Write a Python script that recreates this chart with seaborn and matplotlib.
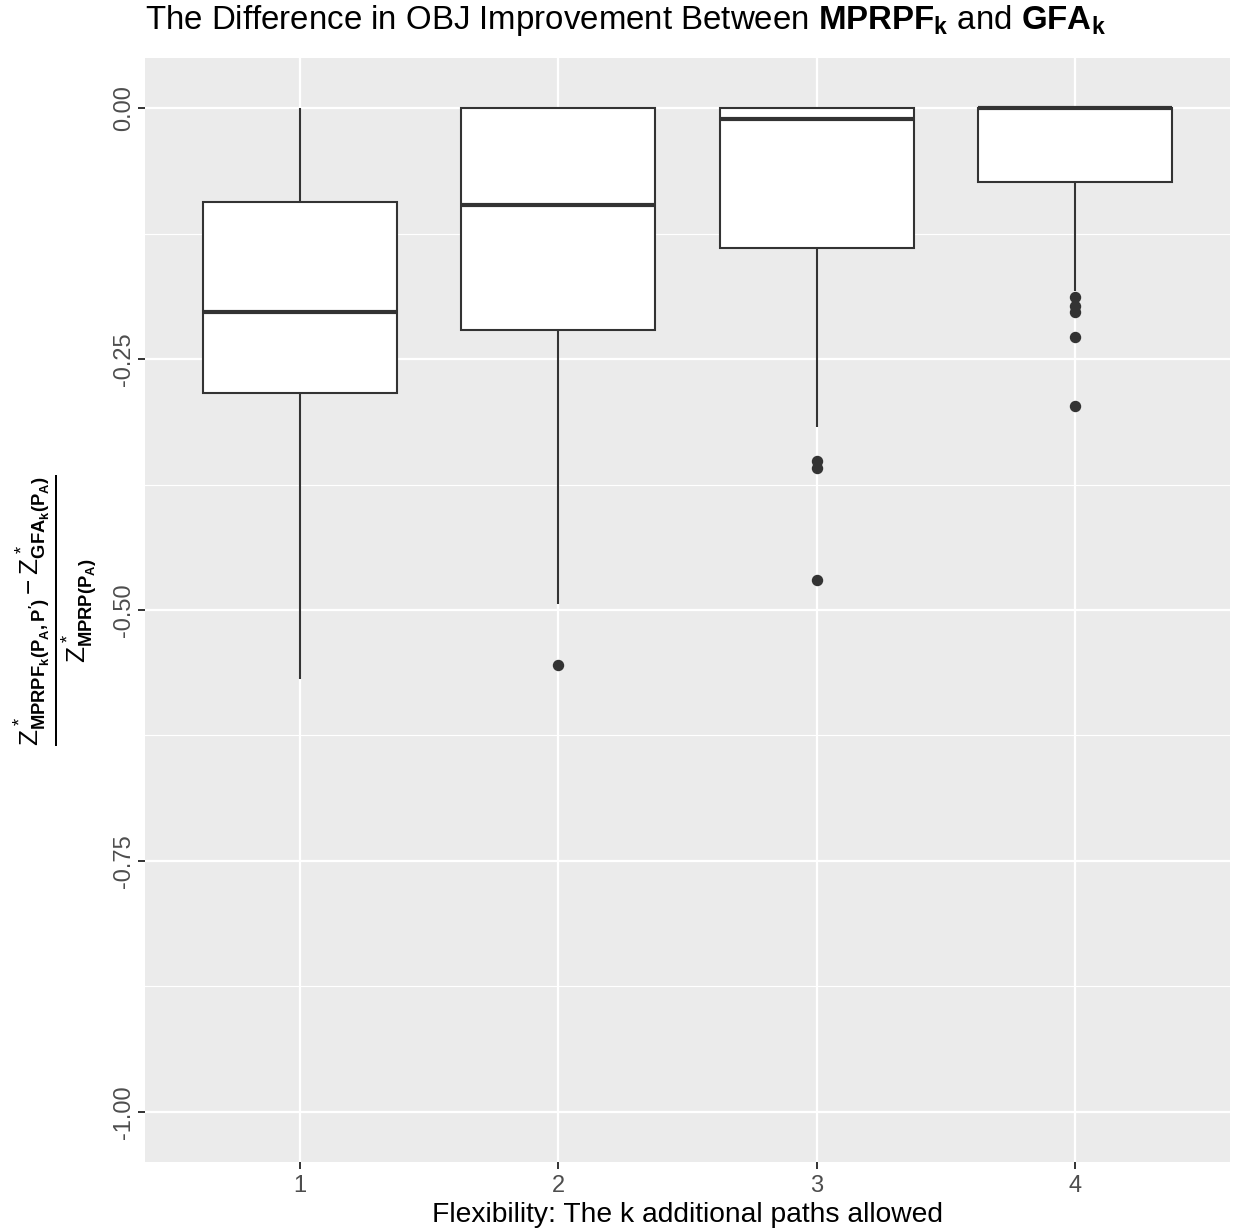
import numpy as np
import pandas as pd
import matplotlib
matplotlib.use("Agg")
import matplotlib.pyplot as plt
import seaborn as sns
from matplotlib.ticker import FixedLocator

# Relative objective difference per instance, grouped by flexibility k
k1_values = [-0.569, -0.400, -0.284, -0.240, -0.203, -0.150, -0.0936, -0.040, 0.0]
k2_values = [-0.555, -0.494, -0.221, -0.150, -0.0966, -0.050, 0.0, 0.0, 0.0]
k3_values = [-0.470, -0.359, -0.352, -0.318, -0.139, -0.100, -0.060, -0.030,
             -0.011, -0.006, -0.003, -0.001, 0.0, 0.0, 0.0, 0.0, 0.0]
k4_values = [-0.297, -0.228, -0.203, -0.197, -0.188, -0.182, -0.074, -0.050,
             -0.030, -0.015, -0.005, -0.001, 0.0, 0.0, 0.0, 0.0, 0.0, 0.0,
             0.0, 0.0, 0.0, 0.0, 0.0, 0.0, 0.0]

k_labels = ["1", "2", "3", "4"]
y_ticks = [0.0, -0.25, -0.5, -0.75, -1.0]
y_tick_labels = ["0.00", "-0.25", "-0.50", "-0.75", "-1.00"]
y_minor = [-0.125, -0.375, -0.625, -0.875]

groups = [k1_values, k2_values, k3_values, k4_values]
df = pd.DataFrame({
    "k": np.concatenate([[lab] * len(v) for lab, v in zip(k_labels, groups)]),
    "diff": np.concatenate(groups),
})

plt.rcParams["font.family"] = ["Liberation Sans", "DejaVu Sans"]
plt.rcParams["mathtext.fontset"] = "custom"
plt.rcParams["mathtext.rm"] = "Liberation Sans"
plt.rcParams["mathtext.it"] = "Liberation Sans"
plt.rcParams["mathtext.bf"] = "Liberation Sans:bold"
plt.rcParams["mathtext.sf"] = "Liberation Sans"

fig = plt.figure(figsize=(12.33, 12.32), dpi=100)
ax = fig.add_axes([145 / 1233, 1 - 1162 / 1232, 1085 / 1233, 1104 / 1232])
ax.set_facecolor("#EBEBEB")
ax.set_axisbelow(True)

ink = "#333333"
sns.boxplot(
    data=df, x="k", y="diff", order=k_labels, ax=ax,
    color="white", linecolor=ink, linewidth=1.5, width=0.75,
    showcaps=False, whis=1.5,
    boxprops=dict(facecolor="white", edgecolor=ink, linewidth=1.5),
    medianprops=dict(color=ink, linewidth=3.0),
    whiskerprops=dict(color=ink, linewidth=1.5),
    flierprops=dict(marker="o", markerfacecolor=ink, markeredgecolor=ink,
                    markersize=7.2),
)

ax.set_xlim(-0.6, 3.6)
ax.set_ylim(-1.05, 0.05)
ax.yaxis.set_major_locator(FixedLocator(y_ticks))
ax.set_yticklabels(y_tick_labels)
ax.yaxis.set_minor_locator(FixedLocator(y_minor))
ax.grid(which="major", color="white", linewidth=1.6)
ax.grid(which="minor", axis="y", color="white", linewidth=0.8)
for s in ax.spines.values():
    s.set_visible(False)

ax.tick_params(axis="both", which="major", length=5.2, width=1.4, color=ink,
               labelcolor="#4D4D4D", labelsize=17)
ax.tick_params(axis="y", which="minor", length=0)
ax.tick_params(axis="y", pad=2)
ax.tick_params(axis="x", pad=4)
for lab in ax.get_yticklabels():
    lab.set_rotation(90)
    lab.set_va("center")

ax.set_xlabel("Flexibility: The k additional paths allowed", fontsize=20.3,
              color="black", labelpad=4)
ax.set_ylabel("")

fig.text(
    55 / 1233, 1 - 610 / 1232,
    r"$\frac{Z^*_{\mathbf{MPRPF_k(P_A,P')}} - Z^*_{\mathbf{GFA_k(P_A)}}}"
    r"{Z^*_{\mathbf{MPRP(P_A)}}}$",
    rotation=90, ha="center", va="center", fontsize=27,
)

fig.text(
    145 / 1233, 1 - 21 / 1232,
    r"The Difference in OBJ Improvement Between $\mathbf{MPRPF_k}$ and $\mathbf{GFA_k}$",
    ha="left", va="center", fontsize=23.8, color="black",
)

fig.savefig("out.png", dpi=100, facecolor="white")
